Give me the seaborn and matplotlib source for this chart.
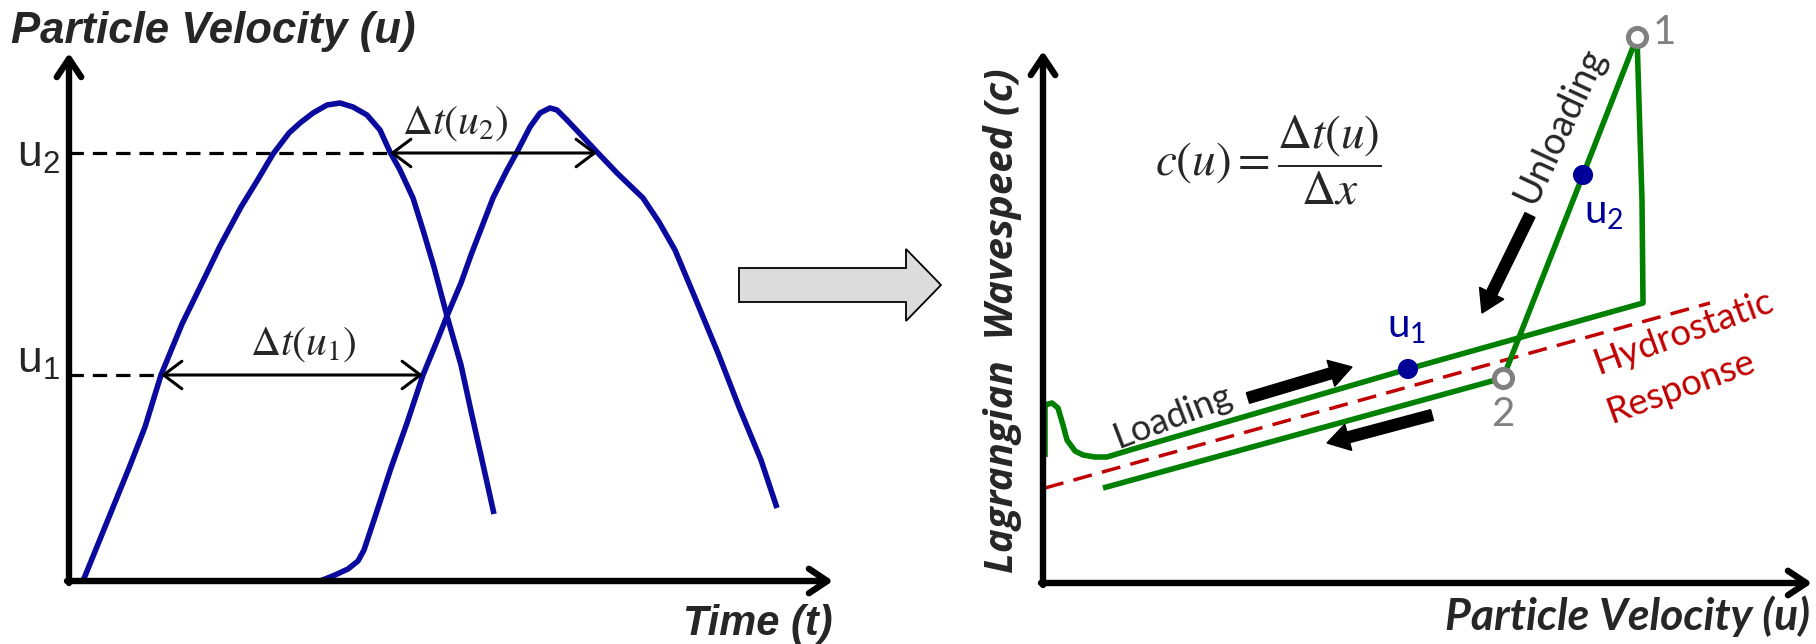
import matplotlib
matplotlib.use("Agg")
import matplotlib.pyplot as plt
from matplotlib.patches import FancyArrow
import seaborn as sns

# ---------------- left panel: velocity histories at two gauges ----------------
time_a = [0.14, 0.38, 0.60, 0.76, 0.92, 1.13, 1.35, 1.51, 1.72, 1.88, 2.04, 2.20, 2.31,
          2.44, 2.58, 2.71, 2.84, 2.98, 3.11, 3.21, 3.31, 3.44, 3.54, 3.65, 3.78, 3.92,
          4.02, 4.13, 4.25]
vel_a = [0.00, 0.59, 1.13, 1.54, 2.06, 2.57, 3.02, 3.35, 3.74, 4.00, 4.27, 4.48, 4.58,
         4.68, 4.76, 4.78, 4.74, 4.66, 4.51, 4.29, 4.11, 3.83, 3.51, 3.14, 2.65, 2.16,
         1.70, 1.21, 0.67]
time_b = [2.51, 2.66, 2.79, 2.89, 2.95, 3.06, 3.22, 3.38, 3.54, 3.68, 3.78, 3.92, 4.02,
          4.24, 4.38, 4.48, 4.61, 4.71, 4.81, 4.88, 4.98, 5.14, 5.28, 5.48, 5.74, 5.90,
          6.06, 6.27, 6.49, 6.70, 6.92, 7.08]
vel_b = [0.00, 0.06, 0.12, 0.20, 0.31, 0.64, 1.13, 1.58, 2.06, 2.40, 2.65, 2.98, 3.26,
         3.83, 4.11, 4.29, 4.54, 4.68, 4.73, 4.71, 4.61, 4.44, 4.29, 4.08, 3.83, 3.59,
         3.31, 2.81, 2.28, 1.74, 1.21, 0.73]
u1_level, u2_level = 2.06, 4.28
dt_u1 = (0.92, 3.54)      # crossings of u1 on the two rising fronts
dt_u2 = (3.21, 5.28)      # crossings of u2 on the two falling tails
left_tick_labels = [r"$\mathregular{u_1}$", r"$\mathregular{u_2}$"]

# ---------------- right panel: Lagrangian wavespeed vs particle velocity ------
path_u = [0.02, 0.02, 0.09, 0.15, 0.20, 0.24, 0.32, 0.40, 0.52, 0.64, 0.87, 3.65,
          6.00, 5.99, 5.94, 5.40, 4.60, 0.60]
path_c = [1.26, 1.78, 1.80, 1.75, 1.58, 1.43, 1.32, 1.28, 1.26, 1.26, 1.33, 2.14,
          2.80, 3.83, 5.46, 4.08, 2.05, 0.95]
hydro_u = [0.02, 6.67]
hydro_c = [0.95, 2.80]
probe_u = [3.65, 5.40]
probe_c = [2.14, 4.08]
probe_labels = [r"$\mathregular{u_1}$", r"$\mathregular{u_2}$"]
state_u = [5.94, 4.60]
state_c = [5.46, 2.05]
state_labels = ["1", "2"]

BLUE = "#0A0A9E"
NAVY = "#000099"
GREEN = "#008000"
RED = "#C00000"
GRAY = "#808080"

sns.set_style("white")
plt.rcParams["font.family"] = ["Liberation Sans", "DejaVu Sans"]
plt.rcParams["mathtext.fontset"] = "stix"

W, H = 1816, 644
fig = plt.figure(figsize=(W / 100, H / 100), dpi=100)

# axes whose data units are 100 px in both directions
ax1 = fig.add_axes([69 / W, (H - 581) / H, 764 / W, 528 / H])
ax2 = fig.add_axes([1043 / W, (H - 583) / H, 769 / W, 532 / H])

def axis_arrows(ax, xmax, ymax):
    style = dict(arrowstyle="->,head_length=0.6,head_width=0.4", lw=4.6,
                 color="black", shrinkA=0, shrinkB=0, mutation_scale=22)
    ax.annotate("", xy=(xmax, 0), xytext=(-0.02, 0), arrowprops=style,
                annotation_clip=False, zorder=6)
    ax.annotate("", xy=(0, ymax), xytext=(0, -0.02), arrowprops=style,
                annotation_clip=False, zorder=6)

# ---- left panel ----
sns.lineplot(x=time_a, y=vel_a, sort=False, estimator=None, color=BLUE, ax=ax1)
sns.lineplot(x=time_b, y=vel_b, sort=False, estimator=None, color=BLUE, ax=ax1)
for ln in ax1.lines:
    ln.set_linewidth(4.0)
    ln.set_solid_joinstyle("round")
    ln.set_solid_capstyle("butt")
dash = (0, (4.5, 2.8))
ax1.plot([0, dt_u2[0]], [u2_level, u2_level], color="black", lw=2.3, ls=dash)
ax1.plot([0, dt_u1[0]], [u1_level, u1_level], color="black", lw=2.3, ls=dash)
dbl = dict(arrowstyle="<->,head_length=0.6,head_width=0.45", lw=2.2, color="black",
           shrinkA=0, shrinkB=0, mutation_scale=22)
ax1.annotate("", xy=(dt_u2[1], u2_level), xytext=(dt_u2[0], u2_level), arrowprops=dbl)
ax1.annotate("", xy=(dt_u1[1], u1_level), xytext=(dt_u1[0], u1_level), arrowprops=dbl)
ax1.text(3.86, 4.58, r"$\Delta t\left(u_2\right)$", fontsize=30, ha="center", va="center")
ax1.text(2.34, 2.37, r"$\Delta t\left(u_1\right)$", fontsize=30, ha="center", va="center")
ax1.text(-0.09, 2.20, left_tick_labels[0], fontsize=32, ha="right", va="center")
ax1.text(-0.09, 4.25, left_tick_labels[1], fontsize=32, ha="right", va="center")
ax1.text(-0.58, 5.38, "Particle Velocity (u)", fontsize=31.5, fontweight="bold",
         fontstyle="italic", ha="left", va="baseline")
ax1.text(7.64, -0.54, "Time (t)", fontsize=30, fontweight="bold",
         fontstyle="italic", ha="right", va="baseline")
axis_arrows(ax1, 7.64, 5.28)
ax1.add_patch(FancyArrow(6.70, 2.96, 2.02, 0, width=0.34, head_width=0.72,
                         head_length=0.35, length_includes_head=True,
                         fc="#DCDCDC", ec="black", lw=1.3, clip_on=False, zorder=5))
ax1.set_xlim(0, 7.64)
ax1.set_ylim(0, 5.28)
ax1.axis("off")

# ---- right panel ----
ax2.plot(hydro_u, hydro_c, color=RED, lw=2.5, ls=(0, (5.5, 3.0)), zorder=2)
sns.lineplot(x=path_u, y=path_c, sort=False, estimator=None, color=GREEN,
             ax=ax2, zorder=3)
path_line = ax2.lines[-1]
path_line.set_linewidth(4.0)
path_line.set_solid_joinstyle("round")
path_line.set_solid_capstyle("butt")
path_line.set_clip_on(False)
sns.scatterplot(x=probe_u, y=probe_c, s=210, color=NAVY, edgecolor="none",
                ax=ax2, zorder=5)
sns.scatterplot(x=state_u, y=state_c, s=170, facecolor="white", edgecolor=GRAY,
                linewidth=3.6, ax=ax2, zorder=5)
for coll in ax2.collections:
    coll.set_clip_on(False)

calibri_like = ["Lato", "DejaVu Sans"]
ax2.text(3.64, 2.56, probe_labels[0], fontsize=29, color=NAVY, ha="center",
         va="center", family=calibri_like)
ax2.text(5.61, 3.70, probe_labels[1], fontsize=29, color=NAVY, ha="center",
         va="center", family=calibri_like)
ax2.text(6.21, 5.51, state_labels[0], fontsize=29, color=GRAY, ha="center",
         va="center", family=calibri_like)
ax2.text(4.60, 1.68, state_labels[1], fontsize=29, color=GRAY, ha="center",
         va="center", family=calibri_like)
ax2.text(1.30, 1.67, "Loading", fontsize=26, rotation=21, rotation_mode="anchor",
         ha="center", va="center", family=calibri_like)
ax2.text(5.17, 4.58, "Unloading", fontsize=27, rotation=65, rotation_mode="anchor",
         ha="center", va="center", family=calibri_like)
ax2.text(6.41, 2.51, "Hydrostatic", fontsize=26.5, color=RED, rotation=20,
         rotation_mode="anchor", ha="center", va="center", family=calibri_like)
ax2.text(6.38, 1.96, "Response", fontsize=26.5, color=RED, rotation=20,
         rotation_mode="anchor", ha="center", va="center", family=calibri_like)
ax2.text(2.25, 4.23, r"$c\left(u\right)=\dfrac{\Delta t\left(u\right)}{\Delta x}$",
         fontsize=34, ha="center", va="center")

fat = dict(width=0.11, head_width=0.27, head_length=0.22, length_includes_head=True,
           color="black", zorder=4, clip_on=False)
ax2.add_patch(FancyArrow(2.05, 1.85, 1.04, 0.31, **fat))
ax2.add_patch(FancyArrow(3.89, 1.68, -1.05, -0.28, **fat))
ax2.add_patch(FancyArrow(4.87, 3.68, -0.48, -0.98, **fat))

ax2.text(7.67, -0.47, "Particle Velocity (u)", fontsize=32, fontweight="bold",
         fontstyle="italic", ha="right", va="baseline", family=calibri_like)
ax2.text(-0.40, 2.62, "Lagrangian  Wavespeed (c)", fontsize=29, fontweight="bold",
         fontstyle="italic", rotation=90, ha="center", va="center",
         family=["Open Sans", "DejaVu Sans"])
axis_arrows(ax2, 7.69, 5.32)
ax2.set_xlim(0, 7.69)
ax2.set_ylim(0, 5.32)
ax2.axis("off")

fig.savefig("out.png", dpi=100)
